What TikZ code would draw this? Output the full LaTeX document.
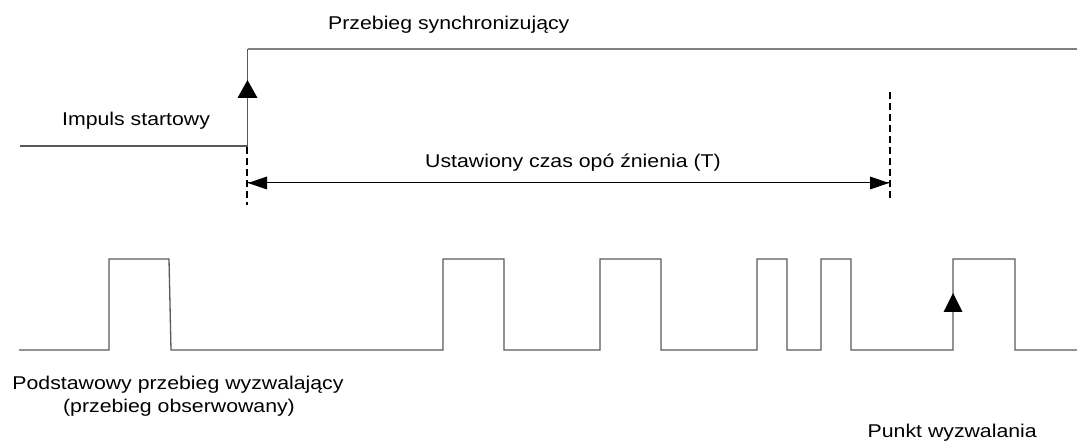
\documentclass[tikz,border=0pt]{standalone}
\usepackage{fontspec}
\setmainfont{Liberation Sans}
\newcommand{\lbl}[1]{{\fontsize{18.5}{22}\selectfont\scalebox{1.15}[1]{#1}}}
\tikzset{
  sig/.style={draw=black!65, line width=1.3pt},
  sighigh/.style={draw=black!50, line width=1.3pt},
  dashline/.style={draw=black, line width=2pt, dash pattern=on 7pt off 4pt},
  arrowhead/.style={fill=black, draw=none},
  txt/.style={inner sep=0pt, anchor=base west},
}
\begin{document}
\begin{tikzpicture}[x=1pt,y=-1pt]
\useasboundingbox (0,0) rectangle (1077,443);
% top signal
\draw[sig] (20,146) -- (247.5,146) -- (247.5,49);
\draw[sighigh] (247.5,49) -- (1077,49);
\fill[arrowhead] (247.5,80) -- (257.5,98) -- (237.5,98) -- cycle;
% dashed markers
\coordinate (dL1) at (247,147);
\coordinate (dL2) at (247,205);
\coordinate (dR1) at (890,92);
\coordinate (dR2) at (890,200);
\draw[dashline] (dL1) -- (dL2);
\draw[dashline] (dR1) -- (dR2);
% delay arrow
\coordinate (aL) at (248,183);
\coordinate (aR) at (889,183);
\draw[black, line width=1pt] (aL) -- (aR);
\fill[arrowhead] (aL) -- ++(19,-6.5) -- ++(0,13) -- cycle;
\fill[arrowhead] (aR) -- ++(-19,-6.5) -- ++(0,13) -- cycle;
% bottom signal
\draw[sig] (19,350) -- (109,350) -- (109,259) -- (169,259) -- (171,350)
  -- (443,350) -- (443,259) -- (504,259) -- (504,350)
  -- (600,350) -- (600,259) -- (661,259) -- (661,350)
  -- (757,350) -- (757,259) -- (787,259) -- (787,350)
  -- (821,350) -- (821,259) -- (851,259) -- (851,350)
  -- (953,350) -- (953,259) -- (1015,259) -- (1015,350) -- (1077,350);
\fill[arrowhead] (953,293) -- (962.5,312) -- (943.5,312) -- cycle;
% labels
\node[txt] (sync) at (328,30) {\lbl{Przebieg synchronizujący}};
\node[txt] (start) at (62,126) {\lbl{Impuls startowy}};
\node[txt] (delay) at (425,168) {\lbl{Ustawiony czas opó źnienia (T)}};
\node[inner sep=0pt, anchor=base] (basic1) at (178,390) {\lbl{Podstawowy przebieg wyzwalający}};
\node[inner sep=0pt, anchor=base] (basic2) at (179,413) {\lbl{(przebieg obserwowany)}};
\node[inner sep=0pt, anchor=base east] (trig) at (1037,438) {\lbl{Punkt wyzwalania}};
\end{tikzpicture}
\end{document}
